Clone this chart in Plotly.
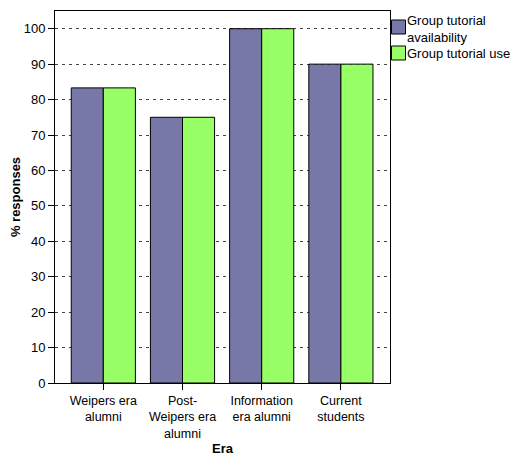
import plotly.graph_objects as go

categories = ["Weipers era<br>alumni", "Post-<br>Weipers era<br>alumni",
              "Information<br>era alumni", "Current<br>students"]
availability = [83.3, 75, 100, 90]
use = [83.3, 75, 100, 90]
series_names = ["Group tutorial availability", "Group tutorial use"]
legend_labels = ["Group tutorial<br>availability", "Group tutorial use"]
y_ticks = [0, 10, 20, 30, 40, 50, 60, 70, 80, 90, 100]

PURPLE = "#7878a8"
GREEN = "#99ff66"
FONT = "Liberation Sans, Arial, sans-serif"

W, H = 515, 457
L, R, T, B = 55, 125, 11, 74
PW, PH = W - L - R, H - T - B

def px(x):
    return (x - L) / PW

def py(y):
    return (H - B - y) / PH

fig = go.Figure()
fig.add_bar(x=categories, y=availability, name=series_names[0],
            marker=dict(color=PURPLE, line=dict(color="black", width=1)))
fig.add_bar(x=categories, y=use, name=series_names[1],
            marker=dict(color=GREEN, line=dict(color="black", width=1)))

shapes = [
    dict(type="rect", xref="paper", yref="paper",
         x0=px(391.5), x1=px(405.5), y0=py(34), y1=py(20),
         fillcolor=PURPLE, line=dict(color="black", width=1)),
    dict(type="rect", xref="paper", yref="paper",
         x0=px(391.5), x1=px(405.5), y0=py(60), y1=py(46),
         fillcolor=GREEN, line=dict(color="black", width=1)),
]
ann_font = dict(family=FONT, size=13, color="black")
annotations = [
    dict(xref="paper", yref="paper", x=px(406.5), y=py(29), text=legend_labels[0],
         showarrow=False, xanchor="left", yanchor="middle", align="left",
         font=ann_font, borderpad=0),
    dict(xref="paper", yref="paper", x=px(406.5), y=py(53.5), text=legend_labels[1],
         showarrow=False, xanchor="left", yanchor="middle", align="left",
         font=ann_font, borderpad=0),
]

fig.update_layout(
    width=W, height=H,
    margin=dict(l=L, r=R, t=T, b=B, autoexpand=False),
    paper_bgcolor="white", plot_bgcolor="white",
    barmode="group", bargap=0.19, bargroupgap=0,
    showlegend=False,
    font=dict(family=FONT, size=13, color="black"),
    shapes=shapes, annotations=annotations,
)
fig.update_xaxes(
    range=[-0.61, 3.62], showline=True, linecolor="black", linewidth=1, mirror=True,
    ticks="outside", ticklen=6, tickcolor="black", showgrid=False,
    tickfont=dict(size=12.5),
    title=dict(text="<b>Era</b>", font=dict(size=13), standoff=4),
)
fig.update_yaxes(
    range=[0, 105], tickvals=y_ticks, showline=True, linecolor="black", linewidth=1,
    mirror=True, ticks="outside", ticklen=6, tickcolor="black",
    showgrid=True, gridcolor="#444444", gridwidth=1, griddash="3px,4px",
    zeroline=False, tickfont=dict(size=13),
    title=dict(text="<b>% responses</b>", font=dict(size=13), standoff=0),
)

fig.write_html("out.html", config={"displayModeBar": False},
               post_script="document.body.style.margin='0';")
